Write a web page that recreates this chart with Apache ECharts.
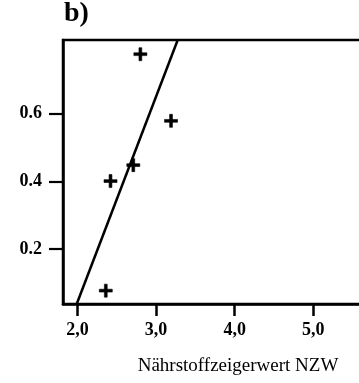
<!DOCTYPE html>
<html>
<head>
<meta charset="utf-8">
<script src="https://cdn.jsdelivr.net/npm/echarts@6/dist/echarts.min.js"></script>
<style>html,body{margin:0;padding:0;background:#fff}#c{width:359px;height:383px}</style>
</head>
<body>
<div id="c"></div>
<script>
var panelLabel = 'b)';
var xAxisTitle = 'Nährstoffzeigerwert NZW';
var xTicks = [2, 3, 4, 5];
var yTicks = [0.2, 0.4, 0.6];
var pointsX = [2.80, 3.19, 2.42, 2.71, 2.36];
var pointsY = [0.776, 0.579, 0.401, 0.448, 0.077];
var fitLineX = [1.99, 3.275];
var fitLineY = [0.0375, 0.818];

var serif = '"Liberation Serif", "DejaVu Serif", serif';
var chart = echarts.init(document.getElementById('c'));
var plus = 'path://M0,4.7L12,4.7L12,7.3L0,7.3Z M4.7,0L7.3,0L7.3,12L4.7,12Z';
chart.setOption({
  animation: false,
  backgroundColor: '#fff',
  grid: { left: 63, top: 40, width: 306, height: 264, outerBoundsMode: 'none', show: true, borderColor: '#000', borderWidth: 2.5, containLabel: false },
  xAxis: {
    type: 'value', min: 1.8155, max: 5.709,
    splitLine: { show: false },
    axisLine: { show: true, lineStyle: { color: '#000', width: 2.5 } },
    axisTick: { show: true, inside: false, length: 12, lineStyle: { color: '#000', width: 2.5 }, customValues: xTicks },
    axisLabel: { show: true, margin: 17, color: '#000', fontFamily: serif, fontSize: 18, fontWeight: 'bold', customValues: xTicks,
      formatter: function (v) { return v.toFixed(1).replace('.', ','); } }
  },
  yAxis: {
    type: 'value', min: 0.0375, max: 0.818,
    splitLine: { show: false },
    axisLine: { show: true, lineStyle: { color: '#000', width: 2.5 } },
    axisTick: { show: true, inside: false, length: 14, lineStyle: { color: '#000', width: 2.2 }, customValues: yTicks },
    axisLabel: { show: true, margin: 21, color: '#000', fontFamily: serif, fontSize: 18, fontWeight: 'bold', customValues: yTicks,
      formatter: function (v) { return v.toFixed(1); } }
  },
  graphic: [
    { type: 'text', left: 64, top: 0, style: { text: panelLabel, fill: '#000', font: 'bold 28px ' + serif } },
    { type: 'text', x: 238, y: 366, style: { text: xAxisTitle, fill: '#000', font: '19px ' + serif, textAlign: 'center', textVerticalAlign: 'middle' } }
  ],
  series: [
    { type: 'line', data: fitLineX.map(function (x, i) { return [x, fitLineY[i]]; }), showSymbol: false, symbol: 'none',
      lineStyle: { color: '#000', width: 2.5 }, clip: false },
    { type: 'scatter', data: pointsX.map(function (x, i) { return [x, pointsY[i]]; }), symbol: plus, symbolSize: 13,
      itemStyle: { color: '#000', opacity: 1, borderColor: '#000', borderWidth: 0.6 } }
  ]
});
</script>
</body>
</html>
